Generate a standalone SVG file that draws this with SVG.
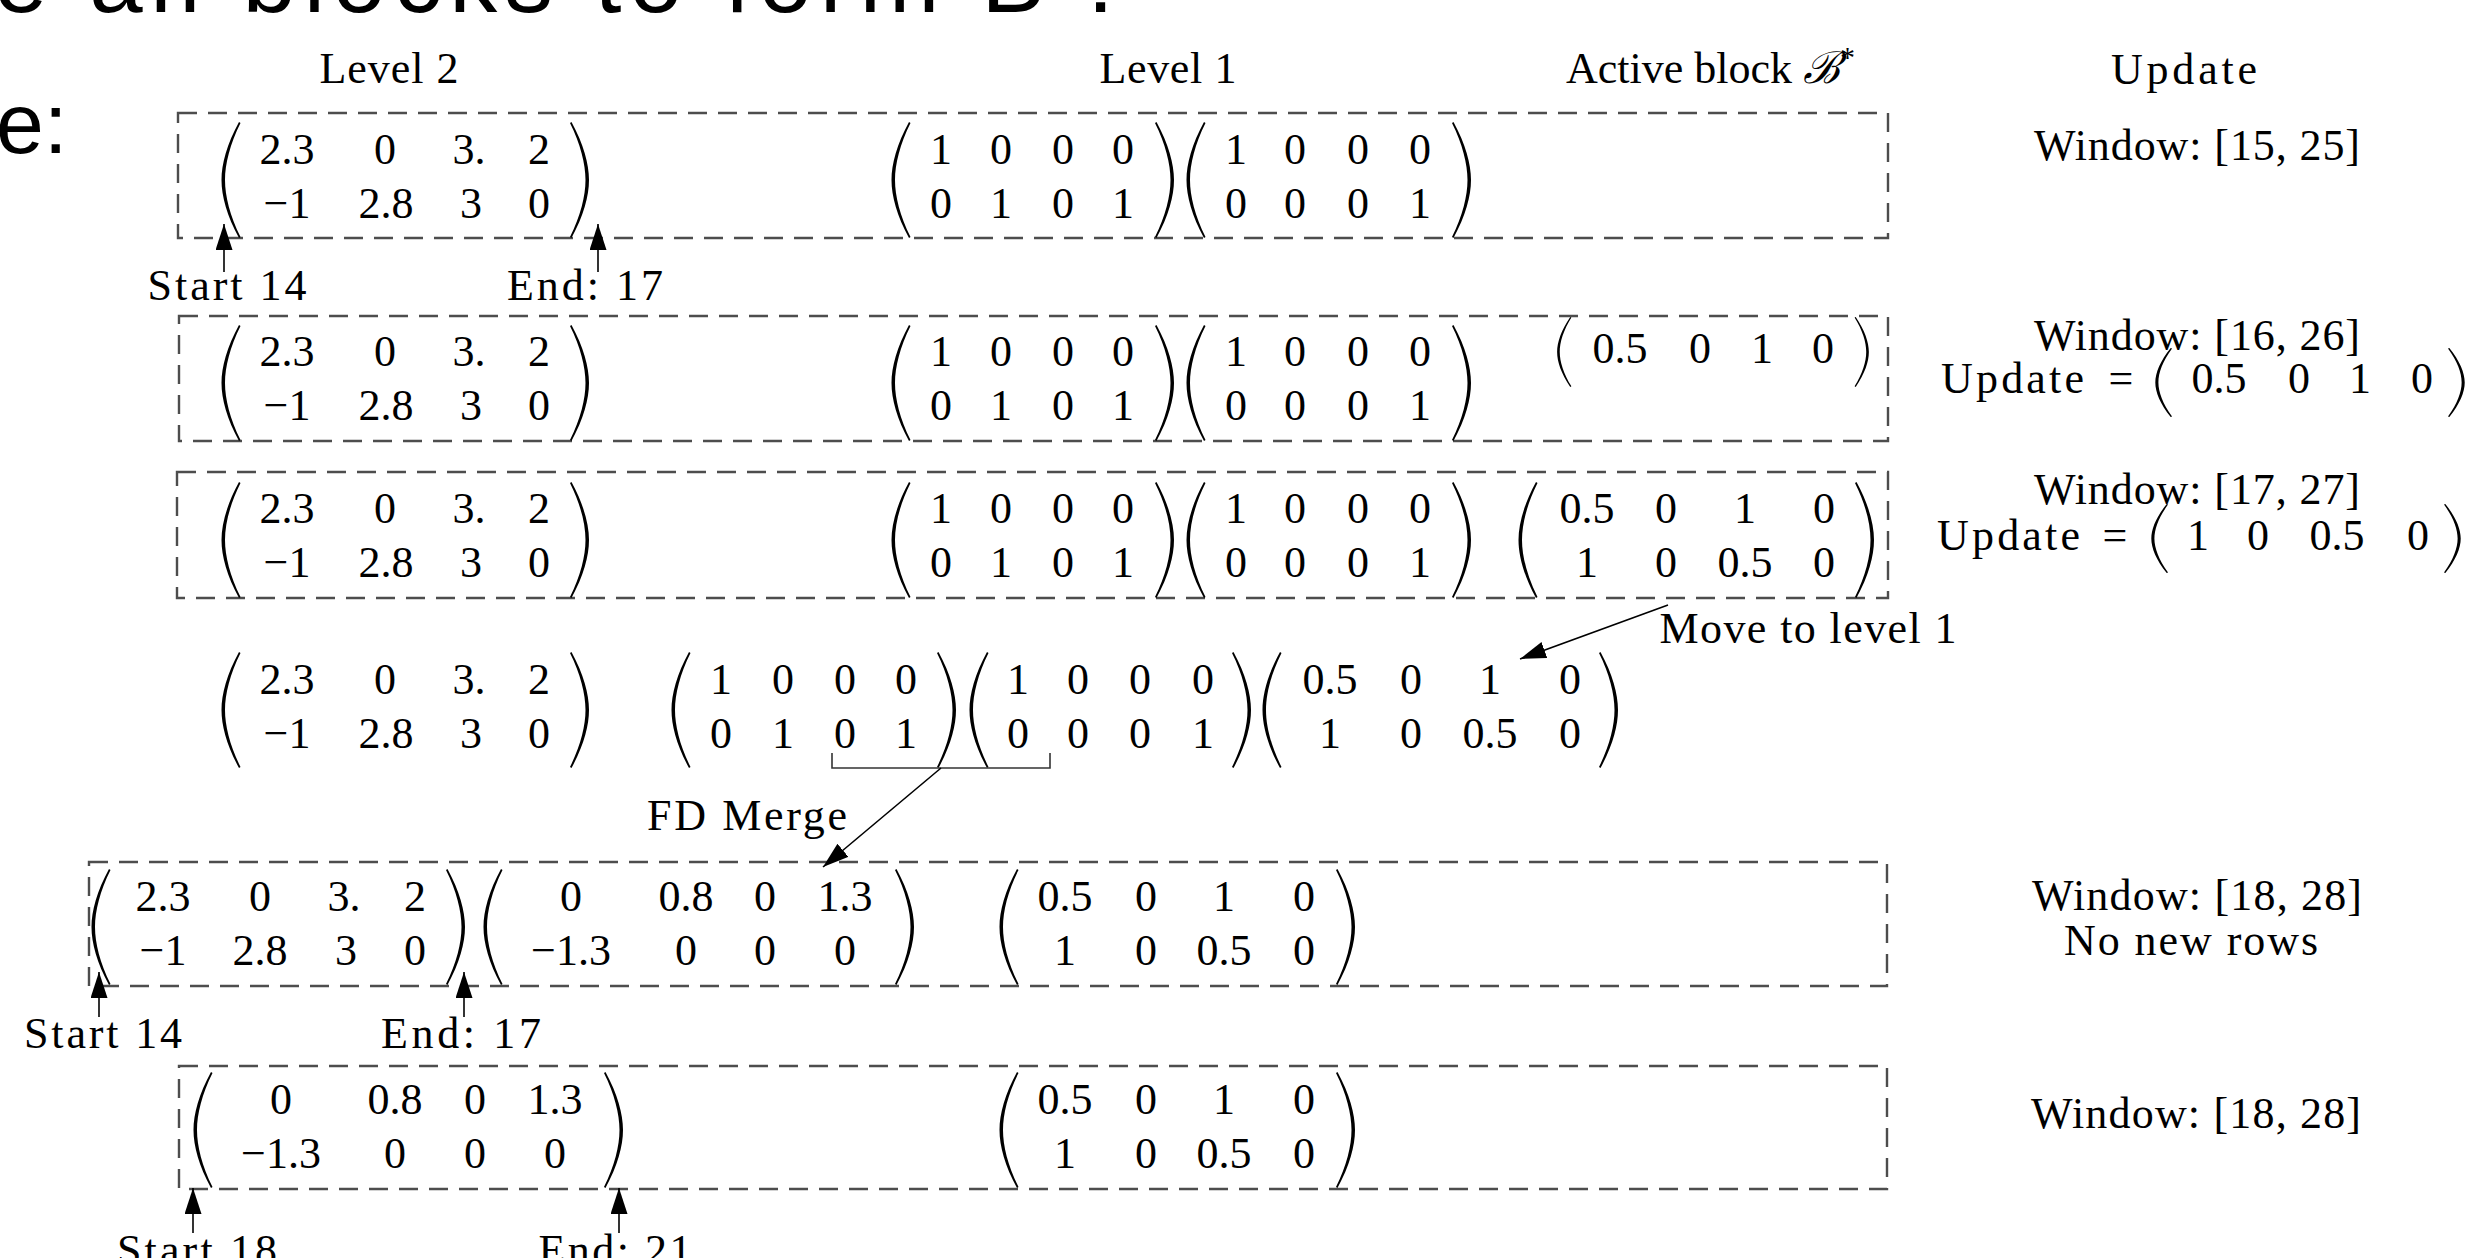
<svg xmlns="http://www.w3.org/2000/svg" xmlns:xlink="http://www.w3.org/1999/xlink" width="2476" height="1258" viewBox="0 0 2476 1258">
<style>
.m{font-family:"Liberation Serif","DejaVu Serif",serif;font-size:44px;text-anchor:middle;fill:#000}
.e{font-family:"Liberation Serif","DejaVu Serif",serif;font-size:44px;text-anchor:end;fill:#000}
.l{font-family:"Liberation Serif","DejaVu Serif",serif;font-size:44px;fill:#000}
.s{font-family:"Liberation Sans","Open Sans",sans-serif;fill:#000}
.box{fill:none;stroke:#4d4d4d;stroke-width:2.4;stroke-dasharray:19 11}
.arr{fill:none;stroke:#000;stroke-width:1.6;marker-end:url(#ah)}
.br{fill:none;stroke:#333;stroke-width:1.6}
.p{fill:#000}
</style>
<defs>
<path id="lp" class="p" d="M19,0 C7,22 1.5,42 1.5,58 C1.5,74 7,94 19,116 L20.5,115 C10,94 5,74 5,58 C5,42 10,22 20.5,1 Z"/>
<path id="rp" class="p" d="M1.5,0 C13.5,22 19,42 19,58 C19,74 13.5,94 1.5,116 L0,115 C10.5,94 15.5,74 15.5,58 C15.5,42 10.5,22 0,1 Z"/>
<marker id="ah" markerUnits="userSpaceOnUse" markerWidth="28" markerHeight="18" refX="26" refY="8.5" orient="auto"><path d="M0,0 L26,8.5 L0,17 Z" fill="#000"/></marker>
</defs>
<rect width="2476" height="1258" fill="#fff"/>

<g id="slide-text">
<text class="s" x="-6" y="12" font-size="96" textLength="1120" lengthAdjust="spacing">e all blocks to form B :</text>
<text class="s" x="-4" y="153" font-size="86">e:</text>
</g>

<g id="headers">
<text class="m" x="389" y="83" textLength="139">Level 2</text>
<text class="m" x="1168" y="83" textLength="137">Level 1</text>
<text class="l" x="1566" y="83">Active block <tspan font-style="italic">ℬ</tspan><tspan font-size="30" dy="-16">*</tspan></text>
<text class="m" x="2184" y="84" textLength="146">Update</text>
</g>

<g id="row1">
<rect class="box" x="178" y="113" width="1710" height="125"/>
<g id="r1-level2">
<use href="#lp" x="220" y="122"/><use href="#rp" x="570" y="122"/>
<text class="m" x="287" y="164">2.3</text><text class="m" x="385" y="164">0</text><text class="m" x="469" y="164">3.</text><text class="m" x="539" y="164">2</text>
<text class="m" x="287" y="218">−1</text><text class="m" x="386" y="218">2.8</text><text class="m" x="471" y="218">3</text><text class="m" x="539" y="218">0</text>
</g>
<g id="r1-level1">
<use href="#lp" x="890" y="122"/><use href="#rp" x="1155" y="122"/>
<text class="m" x="941" y="164">1</text><text class="m" x="1001" y="164">0</text><text class="m" x="1063" y="164">0</text><text class="m" x="1123" y="164">0</text>
<text class="m" x="941" y="218">0</text><text class="m" x="1001" y="218">1</text><text class="m" x="1063" y="218">0</text><text class="m" x="1123" y="218">1</text>
<use href="#lp" x="1185" y="122"/><use href="#rp" x="1452" y="122"/>
<text class="m" x="1236" y="164">1</text><text class="m" x="1295" y="164">0</text><text class="m" x="1358" y="164">0</text><text class="m" x="1420" y="164">0</text>
<text class="m" x="1236" y="218">0</text><text class="m" x="1295" y="218">0</text><text class="m" x="1358" y="218">0</text><text class="m" x="1420" y="218">1</text>
</g>
<text class="m" x="2197" y="160" textLength="326">Window:  [15, 25]</text>
<text class="m" x="227" y="300" textLength="159">Start 14</text>
<text class="m" x="585" y="300" textLength="156">End: 17</text>
</g>

<g id="row2">
<rect class="box" x="179" y="316" width="1709" height="125"/>
<g id="r2-level2">
<use href="#lp" x="220" y="325"/><use href="#rp" x="570" y="325"/>
<text class="m" x="287" y="366">2.3</text><text class="m" x="385" y="366">0</text><text class="m" x="469" y="366">3.</text><text class="m" x="539" y="366">2</text>
<text class="m" x="287" y="420">−1</text><text class="m" x="386" y="420">2.8</text><text class="m" x="471" y="420">3</text><text class="m" x="539" y="420">0</text>
</g>
<g id="r2-level1">
<use href="#lp" x="890" y="325"/><use href="#rp" x="1155" y="325"/>
<text class="m" x="941" y="366">1</text><text class="m" x="1001" y="366">0</text><text class="m" x="1063" y="366">0</text><text class="m" x="1123" y="366">0</text>
<text class="m" x="941" y="420">0</text><text class="m" x="1001" y="420">1</text><text class="m" x="1063" y="420">0</text><text class="m" x="1123" y="420">1</text>
<use href="#lp" x="1185" y="325"/><use href="#rp" x="1452" y="325"/>
<text class="m" x="1236" y="366">1</text><text class="m" x="1295" y="366">0</text><text class="m" x="1358" y="366">0</text><text class="m" x="1420" y="366">0</text>
<text class="m" x="1236" y="420">0</text><text class="m" x="1295" y="420">0</text><text class="m" x="1358" y="420">0</text><text class="m" x="1420" y="420">1</text>
</g>
<g id="r2-active">
<use href="#lp" transform="translate(1556,317) scale(0.75,0.603)"/><use href="#rp" transform="translate(1854.6,317) scale(0.75,0.603)"/>
<text class="m" x="1620" y="363">0.5</text><text class="m" x="1700" y="363">0</text><text class="m" x="1762" y="363">1</text><text class="m" x="1823" y="363">0</text>
</g>
<g id="r2-update">
<text class="m" x="2197" y="350" textLength="326">Window:  [16, 26]</text>
<text class="e" x="2084" y="393" textLength="143">Update</text><text class="m" x="2121" y="393">=</text>
<use href="#lp" transform="translate(2154,348) scale(0.88,0.595)"/><use href="#rp" transform="translate(2448,348) scale(0.88,0.595)"/>
<text class="m" x="2219" y="393">0.5</text><text class="m" x="2299" y="393">0</text><text class="m" x="2360" y="393">1</text><text class="m" x="2422" y="393">0</text>
</g>
</g>

<g id="row3">
<rect class="box" x="177" y="472" width="1711" height="126"/>
<g id="r3-level2">
<use href="#lp" x="220" y="482"/><use href="#rp" x="570" y="482"/>
<text class="m" x="287" y="523">2.3</text><text class="m" x="385" y="523">0</text><text class="m" x="469" y="523">3.</text><text class="m" x="539" y="523">2</text>
<text class="m" x="287" y="577">−1</text><text class="m" x="386" y="577">2.8</text><text class="m" x="471" y="577">3</text><text class="m" x="539" y="577">0</text>
</g>
<g id="r3-level1">
<use href="#lp" x="890" y="482"/><use href="#rp" x="1155" y="482"/>
<text class="m" x="941" y="523">1</text><text class="m" x="1001" y="523">0</text><text class="m" x="1063" y="523">0</text><text class="m" x="1123" y="523">0</text>
<text class="m" x="941" y="577">0</text><text class="m" x="1001" y="577">1</text><text class="m" x="1063" y="577">0</text><text class="m" x="1123" y="577">1</text>
<use href="#lp" x="1185" y="482"/><use href="#rp" x="1452" y="482"/>
<text class="m" x="1236" y="523">1</text><text class="m" x="1295" y="523">0</text><text class="m" x="1358" y="523">0</text><text class="m" x="1420" y="523">0</text>
<text class="m" x="1236" y="577">0</text><text class="m" x="1295" y="577">0</text><text class="m" x="1358" y="577">0</text><text class="m" x="1420" y="577">1</text>
</g>
<g id="r3-active">
<use href="#lp" x="1517" y="482"/><use href="#rp" x="1855" y="482"/>
<text class="m" x="1587" y="523">0.5</text><text class="m" x="1666" y="523">0</text><text class="m" x="1745" y="523">1</text><text class="m" x="1824" y="523">0</text>
<text class="m" x="1587" y="577">1</text><text class="m" x="1666" y="577">0</text><text class="m" x="1745" y="577">0.5</text><text class="m" x="1824" y="577">0</text>
</g>
<g id="r3-update">
<text class="m" x="2197" y="504" textLength="326">Window:  [17, 27]</text>
<text class="e" x="2080" y="550" textLength="143">Update</text><text class="m" x="2115" y="550">=</text>
<use href="#lp" transform="translate(2150,504) scale(0.88,0.595)"/><use href="#rp" transform="translate(2444,504) scale(0.88,0.595)"/>
<text class="m" x="2198" y="550">1</text><text class="m" x="2258" y="550">0</text><text class="m" x="2337" y="550">0.5</text><text class="m" x="2418" y="550">0</text>
</g>
</g>

<g id="row4">
<g id="r4-level2">
<use href="#lp" x="220" y="652"/><use href="#rp" x="570" y="652"/>
<text class="m" x="287" y="694">2.3</text><text class="m" x="385" y="694">0</text><text class="m" x="469" y="694">3.</text><text class="m" x="539" y="694">2</text>
<text class="m" x="287" y="748">−1</text><text class="m" x="386" y="748">2.8</text><text class="m" x="471" y="748">3</text><text class="m" x="539" y="748">0</text>
</g>
<g id="r4-level1">
<use href="#lp" x="670" y="652"/><use href="#rp" x="937" y="652"/>
<text class="m" x="721" y="694">1</text><text class="m" x="783" y="694">0</text><text class="m" x="845" y="694">0</text><text class="m" x="906" y="694">0</text>
<text class="m" x="721" y="748">0</text><text class="m" x="783" y="748">1</text><text class="m" x="845" y="748">0</text><text class="m" x="906" y="748">1</text>
<use href="#lp" x="968" y="652"/><use href="#rp" x="1232" y="652"/>
<text class="m" x="1018" y="694">1</text><text class="m" x="1078" y="694">0</text><text class="m" x="1140" y="694">0</text><text class="m" x="1203" y="694">0</text>
<text class="m" x="1018" y="748">0</text><text class="m" x="1078" y="748">0</text><text class="m" x="1140" y="748">0</text><text class="m" x="1203" y="748">1</text>
<use href="#lp" x="1261" y="652"/><use href="#rp" x="1599" y="652"/>
<text class="m" x="1330" y="694">0.5</text><text class="m" x="1411" y="694">0</text><text class="m" x="1490" y="694">1</text><text class="m" x="1570" y="694">0</text>
<text class="m" x="1330" y="748">1</text><text class="m" x="1411" y="748">0</text><text class="m" x="1490" y="748">0.5</text><text class="m" x="1570" y="748">0</text>
</g>
<text class="m" x="1808" y="643" textLength="297">Move to level 1</text>
<text class="m" x="747" y="830" textLength="200">FD Merge</text>
</g>

<g id="row5">
<rect class="box" x="89" y="862" width="1798" height="124"/>
<g id="r5-level2">
<use href="#lp" x="90" y="869"/><use href="#rp" x="446" y="869"/>
<text class="m" x="163" y="911">2.3</text><text class="m" x="260" y="911">0</text><text class="m" x="344" y="911">3.</text><text class="m" x="415" y="911">2</text>
<text class="m" x="163" y="965">−1</text><text class="m" x="260" y="965">2.8</text><text class="m" x="346" y="965">3</text><text class="m" x="415" y="965">0</text>
<use href="#lp" x="482" y="869"/><use href="#rp" x="895" y="869"/>
<text class="m" x="571" y="911">0</text><text class="m" x="686" y="911">0.8</text><text class="m" x="765" y="911">0</text><text class="m" x="845" y="911">1.3</text>
<text class="m" x="571" y="965">−1.3</text><text class="m" x="686" y="965">0</text><text class="m" x="765" y="965">0</text><text class="m" x="845" y="965">0</text>
</g>
<g id="r5-level1">
<use href="#lp" x="998" y="869"/><use href="#rp" x="1336" y="869"/>
<text class="m" x="1065" y="911">0.5</text><text class="m" x="1146" y="911">0</text><text class="m" x="1224" y="911">1</text><text class="m" x="1304" y="911">0</text>
<text class="m" x="1065" y="965">1</text><text class="m" x="1146" y="965">0</text><text class="m" x="1224" y="965">0.5</text><text class="m" x="1304" y="965">0</text>
</g>
<text class="m" x="2197" y="910" textLength="330">Window:  [18, 28]</text>
<text class="m" x="2191" y="955" textLength="254">No new rows</text>
<text class="m" x="103" y="1048" textLength="158">Start 14</text>
<text class="m" x="461" y="1048" textLength="160">End: 17</text>
</g>

<g id="row6">
<rect class="box" x="179" y="1066" width="1708" height="123"/>
<g id="r6-level2">
<use href="#lp" x="192" y="1072"/><use href="#rp" x="604" y="1072"/>
<text class="m" x="281" y="1114">0</text><text class="m" x="395" y="1114">0.8</text><text class="m" x="475" y="1114">0</text><text class="m" x="555" y="1114">1.3</text>
<text class="m" x="281" y="1168">−1.3</text><text class="m" x="395" y="1168">0</text><text class="m" x="475" y="1168">0</text><text class="m" x="555" y="1168">0</text>
</g>
<g id="r6-level1">
<use href="#lp" x="998" y="1072"/><use href="#rp" x="1336" y="1072"/>
<text class="m" x="1065" y="1114">0.5</text><text class="m" x="1146" y="1114">0</text><text class="m" x="1224" y="1114">1</text><text class="m" x="1304" y="1114">0</text>
<text class="m" x="1065" y="1168">1</text><text class="m" x="1146" y="1168">0</text><text class="m" x="1224" y="1168">0.5</text><text class="m" x="1304" y="1168">0</text>
</g>
<text class="m" x="2196" y="1128" textLength="330">Window:  [18, 28]</text>
<text class="m" x="197" y="1265" textLength="160">Start 18</text>
<text class="m" x="615" y="1265" textLength="153">End: 21</text>
</g>

<g id="connectors">
<line class="arr" x1="224" y1="272" x2="224" y2="224"/>
<line class="arr" x1="598" y1="272" x2="598" y2="224"/>
<line class="arr" x1="1668" y1="605" x2="1520" y2="659"/>
<polyline class="br" points="832,753 832,768 1050,768 1050,753"/>
<line class="arr" x1="941" y1="768" x2="823" y2="867"/>
<line class="arr" x1="99" y1="1017" x2="99" y2="972"/>
<line class="arr" x1="464" y1="1017" x2="464" y2="972"/>
<line class="arr" x1="193" y1="1233" x2="193" y2="1188"/>
<line class="arr" x1="619" y1="1233" x2="619" y2="1188"/>
</g>
</svg>
